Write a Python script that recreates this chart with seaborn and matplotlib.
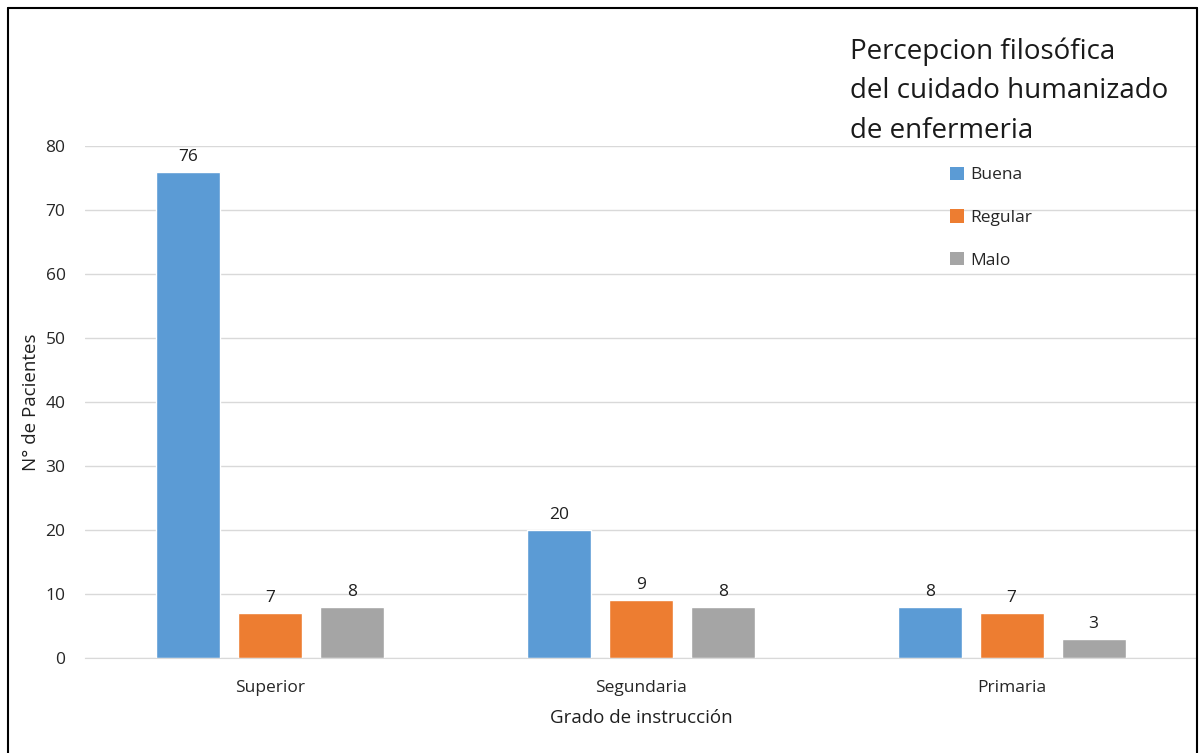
import pandas as pd
import numpy as np
import matplotlib.pyplot as plt
import seaborn as sns
from matplotlib.patches import Patch
from matplotlib.lines import Line2D

# Data
niveles = ['Superior', 'Segundaria', 'Primaria']
series = ['Buena', 'Regular', 'Malo']
buena = [76, 20, 8]
regular = [7, 9, 7]
malo = [8, 8, 3]
colores = ['#5B9BD5', '#ED7D31', '#A5A5A5']

df = pd.DataFrame({
    'Grado': niveles * 3,
    'Percepcion': [s for s in series for _ in niveles],
    'Pacientes': buena + regular + malo,
})

sns.set_style('white')
plt.rcParams['font.family'] = ['Open Sans', 'DejaVu Sans']

fig = plt.figure(figsize=(12.04, 7.53), dpi=100)
ax = fig.add_axes([85 / 1204, 95 / 753, 1112 / 1204, 512 / 753])

sns.barplot(data=df, x='Grado', y='Pacientes', hue='Percepcion',
            order=niveles, hue_order=series, palette=colores,
            width=0.663, gap=0.22, ax=ax, legend=False, saturation=1)

for cont in ax.containers:
    ax.bar_label(cont, padding=5, fontsize=12.5, color='#1f1f1f')

ax.set_ylim(0, 80)
ax.set_yticks(range(0, 81, 10))
ax.set_xlim(-0.5, 2.5)
ax.yaxis.grid(True, color='#D9D9D9', linewidth=1)
ax.set_axisbelow(True)
for s in ['left', 'right', 'top']:
    ax.spines[s].set_visible(False)
ax.spines['bottom'].set_color('#D9D9D9')
ax.tick_params(axis='both', length=0, labelsize=12.5, labelcolor='#262626')
ax.tick_params(axis='y', pad=14)
ax.tick_params(axis='x', pad=16)
ax.set_xlabel('Grado de instrucción', fontsize=13.5, color='#1f1f1f', labelpad=9)
ax.set_ylabel('N° de Pacientes', fontsize=13.5, color='#1f1f1f', labelpad=4)

fig.text(850 / 1204, 1 - 37 / 753,
         'Percepcion filosófica\ndel cuidado humanizado\nde enfermeria',
         fontsize=20, va='top', ha='left', linespacing=1.55, color='#1a1a1a')

handles = [Patch(facecolor=c, edgecolor='none') for c in colores]
fig.legend(handles, series, loc='upper left',
           bbox_to_anchor=(941 / 1204, 1 - 158 / 753), frameon=False,
           fontsize=12.5, handlelength=0.8, handleheight=0.8,
           handletextpad=0.4, labelspacing=1.5, borderpad=0)

# outer chart border
for xs, ys in [([8, 8], [8, 753]), ([8, 1197], [8, 8]), ([1197, 1197], [8, 753])]:
    fig.add_artist(Line2D([x / 1204 for x in xs], [1 - y / 753 for y in ys],
                          color='black', linewidth=1.5))

plt.savefig('out.png', dpi=100)
